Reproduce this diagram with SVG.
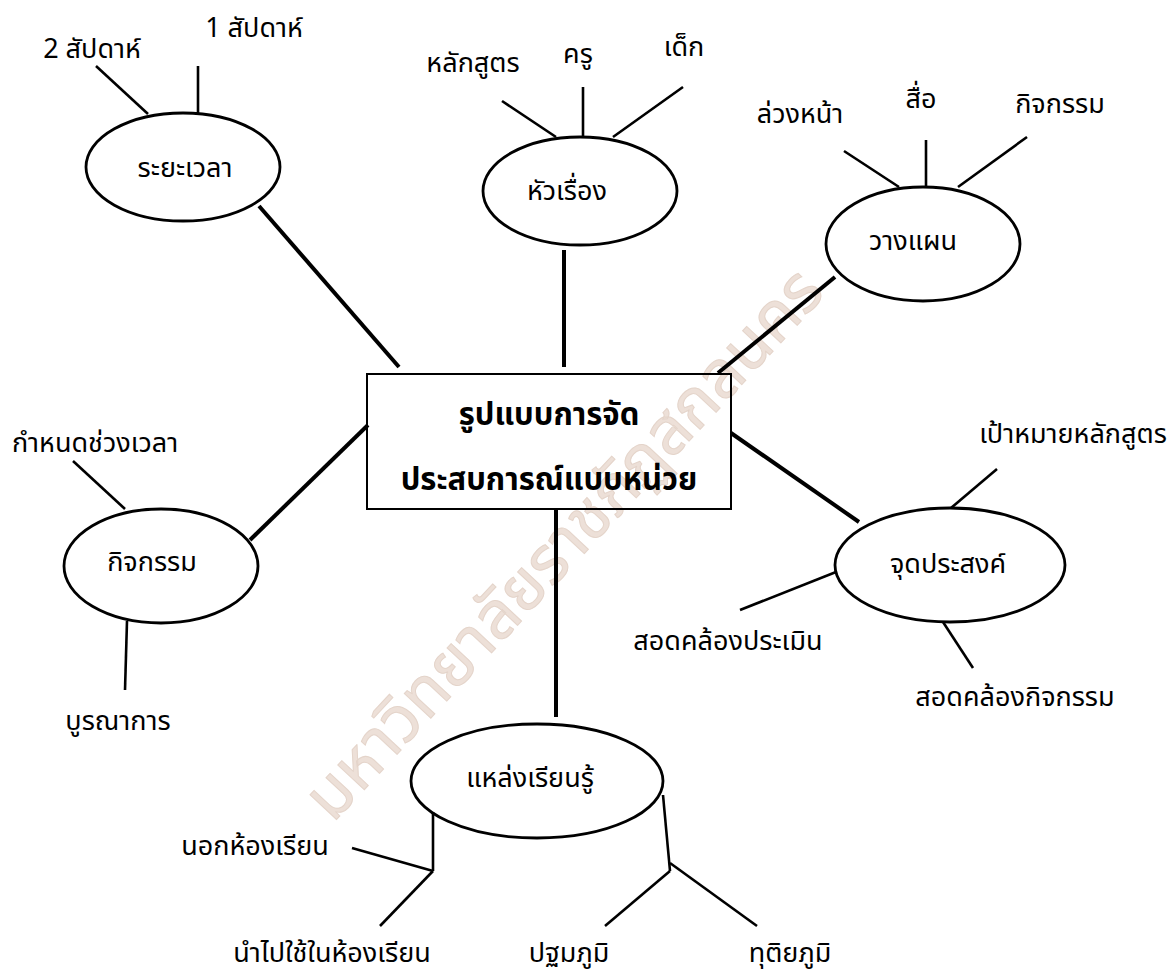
<svg xmlns="http://www.w3.org/2000/svg" width="1171" height="976" viewBox="0 0 1171 976">
<style>
text{font-family:"Noto Sans Thai","Noto Sans","DejaVu Sans",sans-serif;font-size:27px;fill:#000;text-anchor:middle}
.b{font-weight:bold;font-size:31px}
.wm{font-size:66px;fill:#ede0d8;stroke:#e4d4ca;stroke-width:1}
.e{fill:none;stroke:#000;stroke-width:2.8}
.box{fill:none;stroke:#000;stroke-width:2}
.thick{stroke:#000;stroke-width:4;fill:none}
.thin{stroke:#000;stroke-width:2.6;fill:none}
</style>
<rect width="1171" height="976" fill="#fff"/>
<text class="wm" x="565" y="565" transform="rotate(-47 565 545)">มหาวิทยาลัยราชภัฏสกลนคร</text>
<g id="connectors">
<line class="thick" x1="259" y1="206" x2="399" y2="367"/>
<line class="thick" x1="564" y1="250" x2="564" y2="367"/>
<line class="thick" x1="835" y1="277" x2="718" y2="373"/>
<line class="thick" x1="731" y1="433" x2="859" y2="522"/>
<line class="thick" x1="250" y1="540" x2="368" y2="425"/>
<line class="thick" x1="556" y1="509" x2="556" y2="717"/>
<line class="thin" x1="96" y1="66" x2="148" y2="114"/>
<line class="thin" x1="198" y1="66" x2="198" y2="114"/>
<line class="thin" x1="502" y1="101" x2="556" y2="137"/>
<line class="thin" x1="583" y1="87" x2="583" y2="136"/>
<line class="thin" x1="683" y1="87" x2="613" y2="137"/>
<line class="thin" x1="844" y1="151" x2="899" y2="187"/>
<line class="thin" x1="926" y1="140" x2="926" y2="187"/>
<line class="thin" x1="1027" y1="137" x2="958" y2="187"/>
<line class="thin" x1="73" y1="461" x2="125" y2="509"/>
<line class="thin" x1="127" y1="621" x2="125" y2="690"/>
<line class="thin" x1="997" y1="469" x2="951" y2="508"/>
<line class="thin" x1="836" y1="572" x2="740" y2="610"/>
<line class="thin" x1="943" y1="622" x2="973" y2="668"/>
<line class="thin" x1="433" y1="812" x2="433" y2="871"/>
<line class="thin" x1="352" y1="848" x2="433" y2="871"/>
<line class="thin" x1="433" y1="871" x2="380" y2="926"/>
<line class="thin" x1="663" y1="795" x2="670" y2="871"/>
<line class="thin" x1="670" y1="863" x2="757" y2="926"/>
<line class="thin" x1="670" y1="871" x2="605" y2="926"/>
</g>
<g id="center"><rect class="box" x="367" y="374" width="364" height="135"/><text class="b" x="549" y="425">รูปแบบการจัด</text><text class="b" x="549" y="490">ประสบการณ์แบบหน่วย</text></g>
<g id="duration"><ellipse class="e" cx="183" cy="167" rx="97" ry="54"/><text x="185" y="177">ระยะเวลา</text><text x="92" y="58">2 สัปดาห์</text><text x="254" y="37">1 สัปดาห์</text></g>
<g id="topic"><ellipse class="e" cx="580" cy="191" rx="97" ry="54"/><text x="567" y="200">หัวเรื่อง</text><text x="473" y="72">หลักสูตร</text><text x="578" y="63">ครู</text><text x="684" y="56">เด็ก</text></g>
<g id="plan"><ellipse class="e" cx="923" cy="244" rx="97" ry="57"/><text x="913" y="250">วางแผน</text><text x="800" y="123">ล่วงหน้า</text><text x="921" y="108">สื่อ</text><text x="1060" y="113">กิจกรรม</text></g>
<g id="activity"><ellipse class="e" cx="161" cy="566" rx="97" ry="57"/><text x="152" y="571">กิจกรรม</text><text x="95" y="452">กำหนดช่วงเวลา</text><text x="118" y="730">บูรณาการ</text></g>
<g id="objective"><ellipse class="e" cx="950" cy="565" rx="115" ry="57"/><text x="948" y="573">จุดประสงค์</text><text x="1073" y="443">เป้าหมายหลักสูตร</text><text x="728" y="650">สอดคล้องประเมิน</text><text x="1015" y="706">สอดคล้องกิจกรรม</text></g>
<g id="resources"><ellipse class="e" cx="537" cy="781" rx="126" ry="57"/><text x="530" y="787">แหล่งเรียนรู้</text><text x="255" y="855">นอกห้องเรียน</text><text x="332" y="962">นำไปใช้ในห้องเรียน</text><text x="569" y="962">ปฐมภูมิ</text><text x="790" y="962">ทุติยภูมิ</text></g>
</svg>
